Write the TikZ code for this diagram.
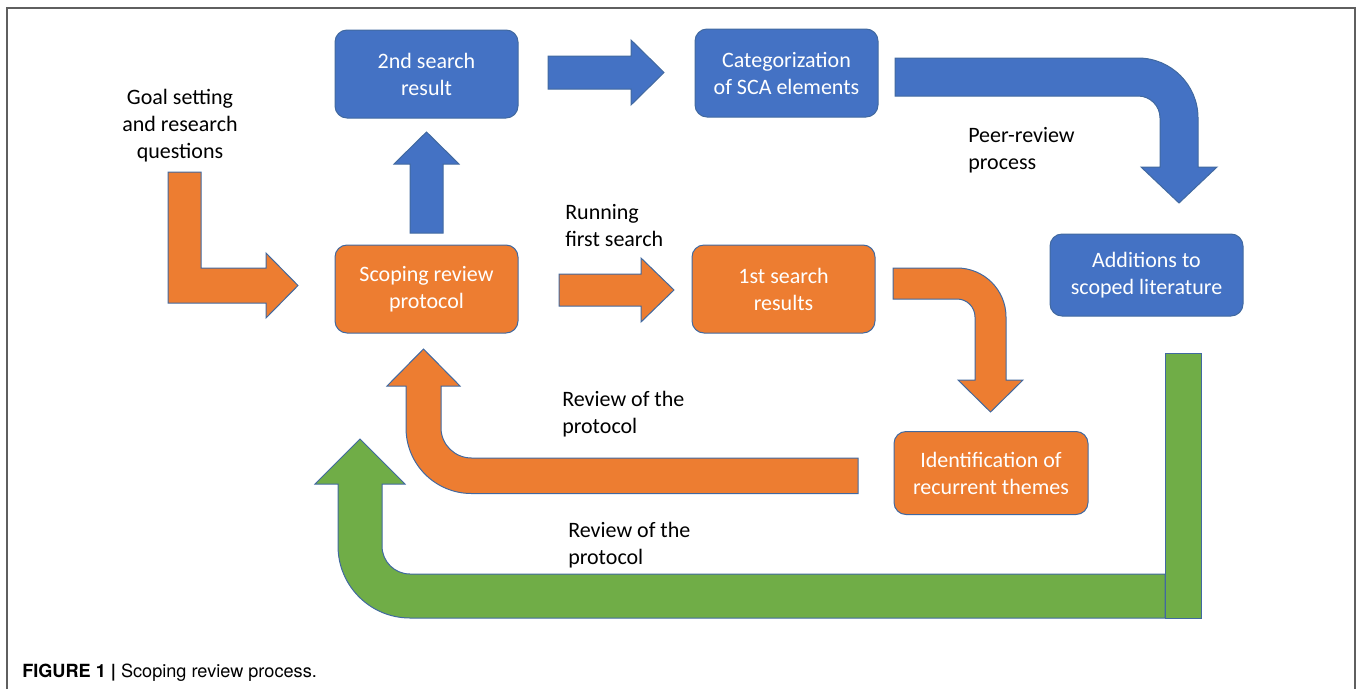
\documentclass[tikz,border=0pt]{standalone}
\usepackage{fontspec}
\setmainfont{Carlito}
\newfontfamily\capfont{TeX Gyre Heros}
\usepackage{tikz}
\usetikzlibrary{positioning}

\definecolor{scblue}{RGB}{68,114,196}
\definecolor{scorange}{RGB}{237,125,49}
\definecolor{scgreen}{RGB}{112,173,71}
\definecolor{scline}{RGB}{65,105,160}
\definecolor{frameline}{RGB}{95,95,95}

\newcommand\boxfont{\fontsize{16.5}{20.25}\selectfont}

\tikzset{
  stagebox/.style={draw=scline, line width=0.75pt, rounded corners=9pt, text=white,
    align=center, inner sep=0pt, font=\boxfont, minimum width=137.25pt, minimum height=66pt},
  blockarrow/.style={draw=scline, line width=0.75pt, line join=miter},
  steplabel/.style={inner sep=0pt, font=\boxfont, align=left, anchor=west}
}

\begin{document}
\begin{tikzpicture}[x=0.75pt,y=0.75pt,yscale=-1,xscale=1]
\useasboundingbox (0,0) rectangle (1358,689);

%Frame
\draw [frameline, line width=1.1pt] (7,689) -- (7,8) -- (1355,8) -- (1355,689) ;

%Shape: L arrow into protocol
\draw [blockarrow, fill=scorange] (168,172) -- (201,172) -- (201,268) -- (266,268) -- (266,253) -- (298,285.5) -- (266,318) -- (266,303) -- (168,303) -- cycle ;
%Shape: Right arrow 2nd search -> categorization
\draw [blockarrow, fill=scblue] (548,56) -- (631,56) -- (631,40) -- (664,72.5) -- (631,105) -- (631,89) -- (548,89) -- cycle ;
%Shape: Up arrow protocol -> 2nd search
\draw [blockarrow, fill=scblue] (410,233) -- (410,164) -- (394,164) -- (426.5,132) -- (459,164) -- (443,164) -- (443,233) -- cycle ;
%Shape: Right arrow protocol -> 1st search
\draw [blockarrow, fill=scorange] (559,274) -- (641,274) -- (641,258) -- (674,290) -- (641,322) -- (641,306) -- (559,306) -- cycle ;
%Shape: Bent arrow categorization -> additions
\draw [blockarrow, fill=scblue] (895,58) -- (1138,58) .. controls (1171.1,58) and (1198,84.9) .. (1198,118) -- (1198,167) -- (1217,167) -- (1179,203) -- (1141,167) -- (1160,167) -- (1160,118) .. controls (1160,105.8) and (1150.2,96) .. (1138,96) -- (895,96) -- cycle ;
%Shape: Bent arrow 1st search -> identification
\draw [blockarrow, fill=scorange] (893,268) -- (957,268) .. controls (984.1,268) and (1006,289.9) .. (1006,317) -- (1006,380) -- (1023,380) -- (990.5,412) -- (958,380) -- (975,380) -- (975,317) .. controls (975,307.1) and (967,299) .. (957,299) -- (893,299) -- cycle ;
%Shape: Return arrow identification -> protocol
\draw [blockarrow, fill=scorange] (858,458) -- (471.5,458) .. controls (454.9,458) and (441,444.6) .. (441,428) -- (441,386) -- (460,386) -- (423.5,349) -- (387,386) -- (406,386) -- (406,428) .. controls (406,464.2) and (435.3,493.5) .. (471.5,493.5) -- (858,493.5) -- cycle ;
%Shape: Return arrow additions -> protocol
\draw [blockarrow, fill=scgreen] (1165,574) -- (410,574) .. controls (394.5,574) and (382,561.5) .. (382,546) -- (382,484) -- (405,484) -- (360,439) -- (315,484) -- (338,484) -- (338,546) .. controls (338,585.8) and (370.2,618) .. (410,618) -- (1165,618) -- cycle ;
%Shape: Rectangle below additions
\draw [blockarrow, fill=scgreen] (1165,353) rectangle (1201,618) ;

% Boxes
\node [stagebox, fill=scblue] (second) at (426.5,74) {2nd search\\result};
\node [stagebox, fill=scblue] (categ) at (786.5,73) {Categorization\\of SCA elements};
\node [stagebox, fill=scorange] (protocol) at (426.5,289) {Scoping review\\protocol};
\node [stagebox, fill=scorange] (first) at (783.5,289) {1st search\\results};
\node [stagebox, fill=scblue, minimum width=144.75pt, minimum height=61.5pt] (additions) at (1146.5,275) {Additions to\\scoped literature};
\node [stagebox, fill=scorange, minimum width=145.5pt, minimum height=62.25pt] (themes) at (991,473) {Identification of\\recurrent themes};

% Text Node
\node [inner sep=0pt, font=\boxfont, align=center] (goal) at (180,126) {Goal setting\\and research\\questions};
% Text Node
\node [steplabel] (running) at (565,226) {Running\\first search};
% Text Node
\node [steplabel] (peer) at (968,150.5) {Peer-review\\process};
% Text Node
\node [steplabel] (revone) at (562,414.5) {Review of the\\protocol};
% Text Node
\node [steplabel] (revtwo) at (568,545.5) {Review of the\\protocol};

% Caption
\node [anchor=base west, inner sep=0pt, font=\capfont\fontsize{13.6}{16}\selectfont] (caption) at (22,677) {\textbf{FIGURE 1 |} Scoping review process.};

\end{tikzpicture}
\end{document}
